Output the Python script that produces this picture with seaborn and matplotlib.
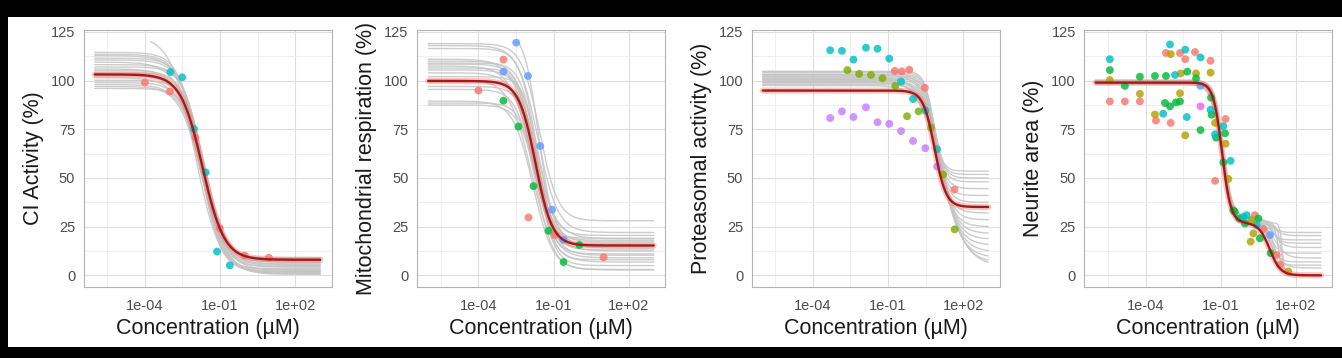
import numpy as np
import pandas as pd
import matplotlib
matplotlib.use("Agg")
import matplotlib.pyplot as plt
import seaborn as sns
from matplotlib.patches import Rectangle
from matplotlib.ticker import FixedLocator, NullFormatter

sns.set_theme(style="white")
plt.rcParams["font.family"] = ["Liberation Sans", "DejaVu Sans"]

# ggplot default hue colours
RED, OLIVE, GOLD, GREEN = "#F8766D", "#7CAE00", "#B79F00", "#00BA38"
TEAL, BLUE, PURPLE, MAGENTA = "#00BFC4", "#619CFF", "#C77CFF", "#F564E3"

# ---------------- panel 1: CI activity (log10 concentration in uM) ----------------
ci_logc_a = [-4.0, -3.0, -1.98, -1.01, -0.02, 0.95]
ci_resp_a = [99.0, 94.4, 70.7, 24.2, 10.2, 9.0]
ci_logc_b = [-2.98, -2.51, -2.04, -1.57, -1.12, -0.61]
ci_resp_b = [104.4, 101.7, 75.2, 52.9, 12.2, 5.1]
ci_fit = dict(top=103.2, bottom=8.0, logec=-1.70, hill=1.0)
ci_boot_top = [114.5, 113.5, 112.8, 111.5, 110.6, 109.5, 108.2, 107.0, 106.0, 105.2,
               104.0, 102.5, 101.5, 100.2, 99.0, 98.0, 97.0, 96.0, 123.0]
ci_boot_bottom = [3.0, 1.5, 5.5, 2.0, 6.8, 0.8, 4.2, 9.0, 1.0, 7.5,
                  3.5, 5.0, 2.5, 8.5, 6.0, 0.5, 4.5, 7.0, 2.0]
ci_boot_logec = [-1.80, -1.75, -1.72, -1.78, -1.68, -1.74, -1.65, -1.70, -1.77, -1.62,
                 -1.72, -1.66, -1.69, -1.60, -1.71, -1.64, -1.73, -1.58, -2.0]
ci_boot_hill = [1.05, 1.0, 0.95, 1.1, 1.0, 0.9, 1.05, 1.15, 0.95, 1.0,
                1.2, 1.0, 0.9, 1.1, 1.05, 0.95, 1.0, 1.1, 0.9]

# ---------------- panel 2: mitochondrial respiration ----------------
mr_logc_a = [-4.0, -3.0, -2.0, -0.96, 1.0]
mr_resp_a = [94.9, 110.8, 29.7, 20.7, 9.3]
mr_logc_b = [-3.0, -2.4, -1.8, -1.2, -0.6, 0.03]
mr_resp_b = [89.7, 76.4, 45.8, 22.9, 6.8, 15.6]
mr_logc_c = [-3.0, -2.49, -2.02, -1.53, -1.06, -0.6]
mr_resp_c = [104.6, 119.5, 102.4, 66.4, 33.7, 18.2]
mr_fit = dict(top=99.8, bottom=15.3, logec=-1.72, hill=1.3)
mr_boot_top = [119.0, 118.0, 116.5, 111.0, 110.0, 109.0, 108.5, 107.5, 106.5, 105.5,
               104.0, 102.0, 100.5, 97.0, 95.5, 89.5, 88.5, 87.5, 126.0]
mr_boot_bottom = [28.0, 22.0, 20.5, 18.8, 17.2, 16.0, 14.0, 12.5, 11.0, 10.3,
                  9.0, 8.0, 6.8, 5.0, 3.0, 2.8, 19.0, 13.0, 18.0]
mr_boot_logec = [-1.55, -1.62, -1.70, -1.80, -1.75, -1.68, -1.60, -1.85, -1.72, -1.66,
                 -1.78, -1.58, -1.90, -1.64, -1.74, -1.82, -1.76, -1.69, -1.60]
mr_boot_hill = [1.2, 1.1, 1.3, 1.0, 1.2, 1.4, 1.1, 1.0, 1.3, 1.2,
                1.1, 1.5, 1.0, 1.3, 1.2, 1.1, 1.4, 1.2, 1.5]

# ---------------- panel 3: proteasomal activity ----------------
pa_logc_a = [-0.73, -0.45, -0.15, 0.47, 1.65]
pa_resp_a = [105.0, 104.8, 105.6, 96.3, 44.0]
pa_logc_b = [-2.62, -2.15, -1.68, -1.22, -0.71, -0.24, 0.22, 0.72, 1.2, 1.66]
pa_resp_b = [105.4, 103.4, 102.9, 101.2, 97.3, 81.7, 84.2, 75.8, 51.7, 23.6]
pa_logc_c = [-3.31, -2.84, -2.38, -1.88, -1.42, -0.95, -0.48, 0.0, 0.49, 0.96]
pa_resp_c = [115.6, 115.3, 110.8, 116.9, 116.4, 111.3, 99.5, 90.5, 84.7, 64.8]
pa_logc_d = [-3.31, -2.84, -2.38, -1.88, -1.42, -0.95, -0.48, 0.0, 0.49, 0.96]
pa_resp_d = [80.8, 84.2, 81.3, 86.3, 78.6, 77.8, 74.1, 69.0, 65.3, 55.8]
pa_fit = dict(top=94.9, bottom=35.1, logec=0.86, hill=1.9)
pa_boot_top = [104.8, 104.0, 103.2, 102.5, 101.8, 101.0, 100.2, 99.5, 98.8, 98.0,
               104.5, 103.0, 100.8, 99.0, 97.5, 102.0, 100.5]
pa_boot_bottom = [53.5, 51.8, 50.0, 48.0, 44.5, 41.0, 37.5, 32.0, 28.5, 25.0,
                  21.5, 18.5, 15.5, 12.0, 9.0, 6.5, 5.0]
pa_boot_logec = [0.80, 0.82, 0.85, 0.85, 0.88, 0.90, 0.92, 0.95, 0.98, 1.00,
                 1.02, 1.05, 1.08, 1.10, 1.12, 1.15, 1.18]
pa_boot_hill = [2.4, 2.3, 2.2, 2.1, 2.0, 1.9, 1.8, 1.6, 1.5, 1.4,
                1.3, 1.25, 1.2, 1.1, 1.05, 1.0, 0.95]

# ---------------- panel 4: neurite area (biphasic) ----------------
na_logc_red = [-5.43, -4.83, -4.23, -3.59, -3.19, -3.0, -2.63, -2.42, -2.03, -1.41,
               -0.81, -1.23, 0.36, 0.70, 1.23, 1.36]
na_resp_red = [89.3, 89.3, 89.3, 79.5, 114.2, 78.3, 114.2, 111.0, 114.7, 110.2,
               80.3, 48.5, 30.9, 23.7, 10.5, 5.4]
na_logc_gold = [-5.43, -4.23, -3.63, -3.0, -2.6, -2.63, -2.42, -1.99, -1.41, -1.23,
                -0.81, -0.70, 0.23, 0.30, 0.19, 1.69]
na_resp_gold = [100.3, 93.2, 82.6, 113.6, 103.7, 93.5, 71.9, 103.7, 104.1, 78.3,
                67.6, 49.5, 28.3, 21.5, 17.3, 2.0]
na_logc_green = [-5.43, -4.83, -4.23, -3.63, -3.23, -3.19, -3.03, -2.79, -2.63, -2.34,
                 -1.99, -1.81, -1.39, -1.37, -1.19, -0.83, -0.90, -0.5, -0.44, -0.26,
                 -0.04, 0.5, 0.56, 0.99]
na_resp_green = [105.4, 97.3, 102.0, 102.4, 88.5, 102.4, 86.8, 88.8, 89.3, 104.6,
                 101.2, 74.6, 91.3, 82.5, 70.7, 72.9, 58.0, 33.4, 32.6, 29.2,
                 26.6, 29.2, 19.0, 11.4]
na_logc_teal = [-5.43, -3.30, -3.03, -2.83, -2.42, -2.36, -1.81, -1.41, -1.23, -0.90,
                -0.61, -0.10, 0.03, 0.43]
na_resp_teal = [111.0, 83.0, 118.6, 102.9, 115.9, 81.3, 111.9, 85.0, 72.4, 76.6,
                58.8, 30.0, 30.9, 25.8]
na_logc_blue = [-1.81, 0.96]
na_resp_blue = [97.3, 20.7]
na_logc_pink = [-1.81]
na_resp_pink = [86.8]
na_fit = dict(top=99.0, mid=27.0, bottom=0.0, logec1=-0.95, hill1=2.5, logec2=0.95, hill2=2.0)
na_boot_top = [99.5, 98.5, 99.0, 100.0, 98.0, 99.2, 98.8, 99.6, 98.4, 99.0, 100.2, 98.6, 99.3]
na_boot_mid = [28.0, 27.0, 29.0, 26.0, 30.0, 27.5, 26.5, 28.5, 27.0, 29.5, 26.0, 28.0, 27.0]
na_boot_bottom = [22.0, 20.4, 18.2, 16.5, 14.3, 11.4, 8.9, 6.9, 5.2, 3.8, 0.0, 0.0, 0.0]
na_boot_logec1 = [-0.95, -0.92, -0.98, -0.90, -1.0, -0.94, -0.96, -0.93, -0.97, -0.91, -0.95, -0.99, -0.92]
na_boot_hill1 = [2.5, 2.3, 2.7, 2.4, 2.2, 2.6, 2.5, 2.8, 2.4, 2.3, 2.6, 2.5, 2.7]
na_boot_logec2 = [1.10, 1.15, 1.05, 1.12, 1.08, 1.00, 1.18, 0.95, 1.10, 1.02, 1.40, 1.30, 1.45]
na_boot_hill2 = [3.0, 2.5, 3.5, 2.8, 2.2, 3.0, 2.0, 2.5, 3.2, 2.0, 6.0, 5.0, 8.0]

# concentration range the fitted curves were drawn over (uM)
curve_conc = np.logspace(-6, 3, 400)


def ll4(x, top, bottom, logec, hill):
    return bottom + (top - bottom) / (1 + (x / 10 ** logec) ** hill)


def biphasic(x, top, mid, bottom, logec1, hill1, logec2, hill2):
    return (bottom + (mid - bottom) / (1 + (x / 10 ** logec2) ** hill2)
            + (top - mid) / (1 + (x / 10 ** logec1) ** hill1))


def curve_frame(values):
    frames = []
    for i, v in enumerate(values):
        v = np.where(v > 120, np.nan, v)  # outside scale limits, dropped like ggplot
        frames.append(pd.DataFrame({"conc": curve_conc, "resp": v, "fit": i}))
    return pd.concat(frames).dropna()


def point_frame(groups):
    rows = []
    for name, logc, resp in groups:
        rows.append(pd.DataFrame({"conc": 10.0 ** np.array(logc), "resp": resp, "group": name}))
    return pd.concat(rows)


panels = [
    dict(label="CI Activity (%)",
         boot=[ll4(curve_conc, *p) for p in zip(ci_boot_top, ci_boot_bottom, ci_boot_logec, ci_boot_hill)],
         main=ll4(curve_conc, **ci_fit),
         points=[("a", ci_logc_a, ci_resp_a), ("b", ci_logc_b, ci_resp_b)],
         colors=[RED, TEAL]),
    dict(label="Mitochondrial respiration (%)",
         boot=[ll4(curve_conc, *p) for p in zip(mr_boot_top, mr_boot_bottom, mr_boot_logec, mr_boot_hill)],
         main=ll4(curve_conc, **mr_fit),
         points=[("a", mr_logc_a, mr_resp_a), ("b", mr_logc_b, mr_resp_b), ("c", mr_logc_c, mr_resp_c)],
         colors=[RED, GREEN, BLUE]),
    dict(label="Proteasomal activity (%)",
         boot=[ll4(curve_conc, *p) for p in zip(pa_boot_top, pa_boot_bottom, pa_boot_logec, pa_boot_hill)],
         main=ll4(curve_conc, **pa_fit),
         points=[("a", pa_logc_a, pa_resp_a), ("b", pa_logc_b, pa_resp_b),
                 ("c", pa_logc_c, pa_resp_c), ("d", pa_logc_d, pa_resp_d)],
         colors=[RED, OLIVE, TEAL, PURPLE]),
    dict(label="Neurite area (%)",
         boot=[biphasic(curve_conc, *p) for p in zip(na_boot_top, na_boot_mid, na_boot_bottom, na_boot_logec1,
                                                    na_boot_hill1, na_boot_logec2, na_boot_hill2)],
         main=biphasic(curve_conc, **na_fit),
         points=[("a", na_logc_red, na_resp_red), ("b", na_logc_gold, na_resp_gold),
                 ("c", na_logc_green, na_resp_green), ("d", na_logc_teal, na_resp_teal),
                 ("e", na_logc_blue, na_resp_blue), ("f", na_logc_pink, na_resp_pink)],
         colors=[RED, GOLD, GREEN, TEAL, BLUE, MAGENTA]),
]

W, H = 1342, 358
fig = plt.figure(figsize=(W / 100, H / 100), dpi=100, facecolor="black")
fig.patches.append(Rectangle((8 / W, 11 / H), 1334 / W, 330 / H, transform=fig.transFigure,
                             facecolor="white", edgecolor="none", zorder=-1))

lefts = [83.5, 417.0, 751.5, 1084.3]
for left, p in zip(lefts, panels):
    ax = fig.add_axes([left / W, 71 / H, 248 / W, 257 / H])
    ax.set_facecolor("white")
    ax.set_xscale("log")

    sns.lineplot(data=curve_frame(p["boot"]), x="conc", y="resp", units="fit", estimator=None,
                 color="#c4c4c4", linewidth=1.0, alpha=0.85, ax=ax)
    sns.lineplot(x=curve_conc, y=p["main"], color=RED, alpha=0.4, linewidth=4.5, ax=ax)
    sns.scatterplot(data=point_frame(p["points"]), x="conc", y="resp", hue="group",
                    palette=p["colors"], s=32, alpha=0.82, linewidth=0, legend=False, ax=ax, zorder=3)
    sns.lineplot(x=curve_conc, y=p["main"], color="#a01c1c", linewidth=1.7, ax=ax, zorder=4)

    ax.set_xlim(10 ** -6.45, 10 ** 3.45)
    ax.set_ylim(-6, 126)
    ax.set_xticks([1e-4, 1e-1, 1e2])
    ax.set_xticklabels(["1e-04", "1e-01", "1e+02"])
    ax.xaxis.set_minor_locator(FixedLocator([10 ** -5.5, 10 ** -2.5, 10 ** 0.5]))
    ax.xaxis.set_minor_formatter(NullFormatter())
    ax.set_yticks([0, 25, 50, 75, 100, 125])
    ax.yaxis.set_minor_locator(FixedLocator([12.5, 37.5, 62.5, 87.5, 112.5]))
    ax.grid(which="major", color="#dedede", linewidth=0.8)
    ax.grid(which="minor", color="#ececec", linewidth=0.6)
    ax.set_axisbelow(True)
    for s in ax.spines.values():
        s.set_color("#b3b3b3")
        s.set_linewidth(0.8)
    ax.tick_params(which="major", length=3.5, width=0.8, color="#b3b3b3",
                   labelcolor="#4d4d4d", labelsize=10.5, pad=2.5)
    ax.tick_params(axis="x", which="major", pad=5)
    ax.tick_params(which="minor", length=0)
    ax.set_xlabel("Concentration (\u00b5M)", fontsize=15.5, color="#1a1a1a", labelpad=4)
    ax.set_ylabel(p["label"], fontsize=15.5, color="#1a1a1a", labelpad=5)

fig.savefig("out.png", dpi=100, facecolor=fig.get_facecolor())
